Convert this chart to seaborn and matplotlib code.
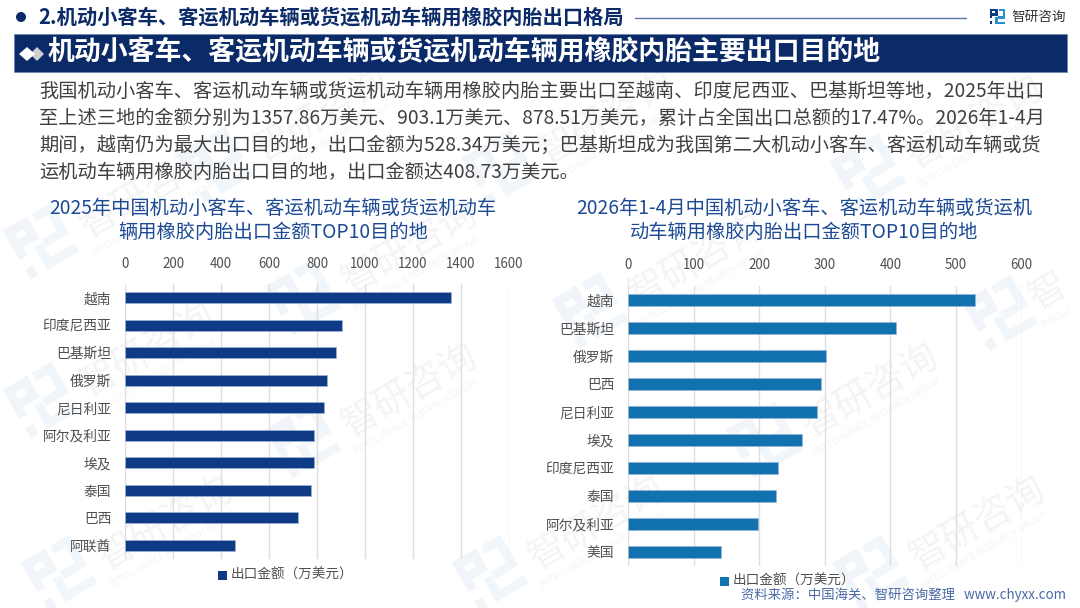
import matplotlib
matplotlib.use("Agg")
import matplotlib.pyplot as plt
from matplotlib.patches import Rectangle, Polygon, Circle
from matplotlib.transforms import Affine2D
import pandas as pd
import seaborn as sns

W, H = 1080, 608
NAVY = "#0b2a68"
BAR_LEFT = "#0f3a86"
BAR_RIGHT = "#1272b0"
TITLE_BLUE = "#1c4a94"
TEXT = "#404040"
AXIS_TEXT = "#505050"

section_title = "2.机动小客车、客运机动车辆或货运机动车辆用橡胶内胎出口格局"
banner_title = "机动小客车、客运机动车辆或货运机动车辆用橡胶内胎主要出口目的地"
paragraph = [
    "我国机动小客车、客运机动车辆或货运机动车辆用橡胶内胎主要出口至越南、印度尼西亚、巴基斯坦等地，2025年出口",
    "至上述三地的金额分别为1357.86万美元、903.1万美元、878.51万美元，累计占全国出口总额的17.47%。2026年1-4月",
    "期间，越南仍为最大出口目的地，出口金额为528.34万美元；巴基斯坦成为我国第二大机动小客车、客运机动车辆或货",
    "运机动车辆用橡胶内胎出口目的地，出口金额达408.73万美元。",
]
title_2025 = "2025年中国机动小客车、客运机动车辆或货运机动车\n辆用橡胶内胎出口金额TOP10目的地"
title_2026 = "2026年1-4月中国机动小客车、客运机动车辆或货运机\n动车辆用橡胶内胎出口金额TOP10目的地"
legend_label = "出口金额（万美元）"
source_note = "资料来源：中国海关、智研咨询整理   www.chyxx.com"

countries_2025 = ["越南", "印度尼西亚", "巴基斯坦", "俄罗斯", "尼日利亚",
                  "阿尔及利亚", "埃及", "泰国", "巴西", "阿联酋"]
values_2025 = [1357.86, 903.1, 878.51, 840, 828, 786, 786, 775, 722, 460]
ticks_2025 = [0, 200, 400, 600, 800, 1000, 1200, 1400, 1600]

countries_2026 = ["越南", "巴基斯坦", "俄罗斯", "巴西", "尼日利亚",
                  "埃及", "印度尼西亚", "泰国", "阿尔及利亚", "美国"]
values_2026 = [528.34, 408.73, 302, 295, 288, 265, 229, 226, 198, 142]
ticks_2026 = [0, 100, 200, 300, 400, 500, 600]

sns.set_theme(style="white")
plt.rcParams["font.family"] = ["Noto Sans CJK SC", "DejaVu Sans"]

fig = plt.figure(figsize=(W / 100, H / 100), dpi=100, facecolor="white")

# Full-canvas layer in pixel units for the page furniture
page = fig.add_axes([0, 0, 1, 1], zorder=0)
page.set_xlim(0, W)
page.set_ylim(H, 0)
page.axis("off")

LOGO_DARK = [(0, 0, 5, 1.6), (0, 0, 1.6, 6), (3.4, 0, 1.6, 4.4), (1.6, 2.8, 1.8, 1.6), (0, 8, 1.6, 2)]
LOGO_LIGHT = [(6, 0, 4, 1.6), (8.4, 0, 1.6, 6.4), (5.2, 4.8, 3.2, 1.6), (3.4, 5.4, 1.6, 4.6), (3.4, 8.4, 6.6, 1.6)]


def draw_logo(ax, x, y, s, c1, c2, zorder=1, transform=None):
    """Company mark built from blocks, (x, y) top-left, s its size."""
    u = s / 10
    tr = transform if transform is not None else ax.transData
    for rects, col in ((LOGO_DARK, c1), (LOGO_LIGHT, c2)):
        for rx, ry, rw, rh in rects:
            ax.add_patch(Rectangle((x + rx * u, y + ry * u), rw * u, rh * u, fc=col, ec="none",
                                   transform=tr, zorder=zorder))


def draw_watermark(cx, cy, name="智研咨询", tagline="INTELLIGENCE RESEARCH GROUP", gap=42):
    """Faint tilted logo with the company name running up to its right."""
    tr = Affine2D().rotate_deg_around(cx, cy, -30) + page.transData
    draw_logo(page, cx - 28, cy - 28, 56, "#f1f5fa", "#f1f6fb", zorder=0.2, transform=tr)
    page.text(cx + gap, cy - 12, name, fontsize=27, color="#f4f4f5", rotation=30,
              ha="left", va="center", rotation_mode="anchor", zorder=0.2)
    page.text(cx + gap + 10, cy + 13, tagline, fontsize=6.6, color="#f4f4f5", rotation=30,
              ha="left", va="center", rotation_mode="anchor", zorder=0.2)


for wx, wy in [(41, 241), (303, 297), (590, 310), (41, 400), (303, 440),
               (764, 440), (59, 573), (490, 573), (871, 573), (868, 172),
               (215, 165), (500, 168)]:
    draw_watermark(wx, wy)
draw_watermark(1000, 313, name="智", tagline="INTELLI", gap=32)

# Section header
page.add_patch(Circle((21, 17), 5, fc=NAVY, ec="none", zorder=2))
page.text(38, 17, section_title, fontsize=14.6, color=NAVY, fontweight="bold", va="center", ha="left", zorder=2)
page.plot([635, 966], [18, 18], color="#5a76a8", lw=1, zorder=2)
draw_logo(page, 990, 9, 15, "#0f3a86", "#2a8fd0", zorder=2)
page.text(1011, 16.5, "智研咨询", fontsize=9.8, color="#333333", va="center", ha="left", zorder=2)

# Banner
page.add_patch(Rectangle((14, 34), 1053, 37.5, fc=NAVY, ec="#6f86b3", lw=0.6, zorder=2))
page.add_patch(Polygon([(19, 54), (27, 47), (35, 54), (27, 61)], fc="white", ec="none", zorder=3))
page.add_patch(Polygon([(30, 54), (37, 47), (44, 54), (37, 61)], fc="#cfcfcf", ec="none", zorder=2.9))
page.text(48, 52.5, banner_title, fontsize=19.38, color="white", fontweight="bold", va="center", ha="left", zorder=3)

# Intro paragraph
for i, line in enumerate(paragraph):
    page.text(39, 91.5 + i * 27, line, fontsize=13.84, color=TEXT, va="center", ha="left", zorder=2)

# Source line
page.text(741, 595, source_note, fontsize=9.6, color="#4a6aa5", va="center", ha="left", zorder=5)


def bar_panel(left, right, top, bottom, cats, vals, ticks, xmax, colour, title, title_x, legend_x, legend_y, tick_pad):
    ax = fig.add_axes([left / W, 1 - bottom / H, (right - left) / W, (bottom - top) / H], zorder=2)
    ax.patch.set_alpha(0)
    frame = pd.DataFrame({"country": cats, "value": vals})
    sns.barplot(data=frame, y="country", x="value", color=colour, saturation=1,
                width=0.4, ax=ax, orient="h", zorder=3,
                edgecolor="#9db4d6", linewidth=0.5)
    ax.set_xlim(0, xmax)
    ax.set_xticks(ticks)
    ax.set_xlabel("")
    ax.set_ylabel("")
    ax.xaxis.tick_top()
    ax.tick_params(axis="x", length=0, pad=tick_pad, labelsize=9.6, labelcolor=AXIS_TEXT)
    ax.tick_params(axis="y", length=0, pad=9.8, labelsize=9.9, labelcolor=AXIS_TEXT)
    ax.grid(axis="x", color="#dedede", lw=1, zorder=0)
    ax.set_axisbelow(True)
    sns.despine(ax=ax, left=True, top=True, right=True, bottom=True)
    page.text(title_x, 220.5, title, fontsize=13.85, color=TITLE_BLUE, ha="center", va="center",
              linespacing=1.2, zorder=4)
    page.add_patch(Rectangle((legend_x, legend_y - 4), 8.5, 8.5, fc=colour, ec="none", zorder=4))
    page.text(legend_x + 12.5, legend_y, legend_label, fontsize=9.8, color=AXIS_TEXT, va="center", ha="left", zorder=4)
    return ax


bar_panel(125, 509, 284, 559, countries_2025, values_2025, ticks_2025, 1600, BAR_LEFT,
          title_2025, 273, 218, 575, 9)
bar_panel(628, 1021.5, 286, 566, countries_2026, values_2026, ticks_2026, 600, BAR_RIGHT,
          title_2026, 804, 720, 581, 10)

fig.savefig("out.png", dpi=100, facecolor="white")
